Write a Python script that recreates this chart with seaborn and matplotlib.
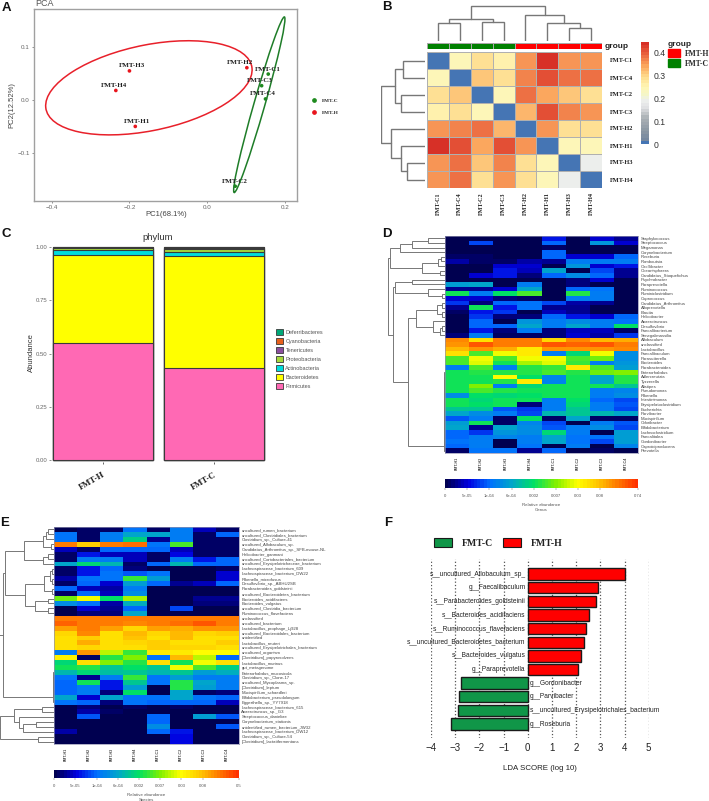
import matplotlib
matplotlib.use("Agg")
import matplotlib.pyplot as plt
import seaborn as sns
import numpy as np
import pandas as pd
from matplotlib.colors import LinearSegmentedColormap, ListedColormap
from matplotlib.lines import Line2D
from matplotlib.patches import Ellipse, Patch

W, H = 709, 801

# --- panel A: PCA
pca_names = ["FMT-H1", "FMT-H2", "FMT-H3", "FMT-H4", "FMT-C1", "FMT-C2", "FMT-C3", "FMT-C4"]
pca_pc1 = [-0.185, 0.102, -0.200, -0.235, 0.157, 0.072, 0.140, 0.150]
pca_pc2 = [-0.050, 0.061, 0.055, 0.018, 0.049, -0.163, 0.027, 0.002]
pca_group = ["FMT-H"] * 4 + ["FMT-C"] * 4
pca_label_dx = [1, -5, 2, -1, 0, 0, -1, -2]
# centre x, centre y, half width, half height, correlation
ellipse_h = (-0.150, 0.023, 0.2655, 0.089, 0.38)
ellipse_c = (0.134, -0.009, 0.066, 0.166, 0.975)

# --- panel B: distance heatmap
dist_labels = ["FMT-C1", "FMT-C4", "FMT-C2", "FMT-C3", "FMT-H2", "FMT-H1", "FMT-H3", "FMT-H4"]
dist_values = [
    [0.00, 0.25, 0.28, 0.26, 0.36, 0.44, 0.36, 0.35],
    [0.25, 0.00, 0.31, 0.28, 0.37, 0.41, 0.39, 0.38],
    [0.28, 0.31, 0.00, 0.25, 0.38, 0.34, 0.32, 0.29],
    [0.26, 0.28, 0.25, 0.00, 0.33, 0.41, 0.37, 0.36],
    [0.36, 0.37, 0.38, 0.33, 0.00, 0.35, 0.29, 0.28],
    [0.44, 0.41, 0.34, 0.41, 0.35, 0.00, 0.24, 0.25],
    [0.36, 0.39, 0.32, 0.37, 0.29, 0.24, 0.00, 0.19],
    [0.35, 0.38, 0.29, 0.36, 0.28, 0.25, 0.19, 0.00],
]
dist_groups = [1, 1, 1, 1, 0, 0, 0, 0]
dist_cbar_ticks = [0, 0.1, 0.2, 0.3, 0.4]
# dendrograms: (child, child, height)
tree_b_top = (((0, 1, 18), (2, 3, 19), 22), (4, (5, (6, 7, 13), 18), 26), 35)
tree_b_left = (((0, 1, 22), (2, 3, 25), 31), (4, (5, (6, 7, 18), 25), 35), 45)

# --- panel C: phylum composition
phylum_groups = ["FMT-H", "FMT-C"]
phylum_names = ["Firmicutes", "Bacteroidetes", "Actinobacteria", "Proteobacteria",
                "Tenericutes", "Cyanobacteria", "Deferribacteres"]
phylum_h = [0.549, 0.415, 0.020, 0.010, 0.003, 0.002, 0.001]
phylum_c = [0.433, 0.526, 0.019, 0.013, 0.004, 0.003, 0.002]
phylum_colors = ["#FF69B4", "#FFFF00", "#00DCDC", "#A6D83A", "#8B4E9E", "#E8601C", "#00A878"]

# --- panel D: genus heatmap (values are colour bar positions)
abund_cols = ["FMT-H1", "FMT-H2", "FMT-H3", "FMT-H4", "FMT-C1", "FMT-C2", "FMT-C3", "FMT-C4"]
genus_names = ["Staphylococcus", "Streptococcus", "Megamonas", "Corynebacterium", "Roseburia",
               "Romboutsia", "Oscillibacter", "Oceanisphaera", "Candidatus_Stoquefichus",
               "Psychrobacter", "Paraprevotella", "Ruminococcus", "Ruminiclostridium", "Coprococcus",
               "Candidatus_Arthromitus", "Alloprevotella", "Blautia", "Helicobacter", "Anaerotruncus",
               "Desulfovibrio", "Faecalibacterium", "Senegalimassilia", "Allobaculum", "unclassified",
               "Lactobacillus", "Faecalibaculum", "Parasutterella", "Bacteroides", "Parabacteroides",
               "Enterorhabdus", "Adlercreutzia", "Tyzzerella", "Alistipes", "Pseudomonas", "Rikenella",
               "Intestinimonas", "Erysipelatoclostridium", "Escherichia", "Parvibacter", "Mucispirillum",
               "Odoribacter", "Bifidobacterium", "Lachnoclostridium", "Faecalitalea", "Gordonibacter",
               "Caproiciproducens", "Prevotella"]
genus_values = [
    [0.1, 0.1, 0.1, 0.1, 1.2, 0.1, 1.0, 0.5],
    [0.1, 1.6, 0.1, 0.1, 2.0, 0.1, 2.7, 1.0],
    [0.1, 0.1, 0.1, 0.1, 0.2, 0.1, 0.1, 0.1],
    [0.1, 0.1, 0.1, 0.1, 2.0, 0.1, 0.1, 0.1],
    [0.2, 0.2, 0.1, 0.1, 2.0, 1.0, 1.0, 2.0],
    [0.6, 0.2, 0.2, 0.6, 0.5, 2.2, 2.3, 2.2],
    [0.1, 0.1, 1.0, 0.9, 0.1, 2.7, 1.0, 1.2],
    [0.1, 0.1, 1.2, 0.8, 3.0, 0.1, 1.7, 0.5],
    [0.1, 1.0, 1.3, 0.3, 2.0, 2.5, 2.0, 0.5],
    [0.1, 0.1, 0.1, 0.1, 0.1, 0.3, 1.0, 0.1],
    [2.8, 3.0, 0.1, 2.2, 0.1, 0.3, 0.1, 0.1],
    [0.5, 0.5, 1.0, 3.0, 0.1, 2.0, 2.1, 0.1],
    [4.2, 2.3, 4.0, 4.6, 0.1, 4.3, 2.3, 0.1],
    [1.0, 1.0, 0.3, 0.2, 0.1, 2.3, 2.2, 0.1],
    [1.5, 0.3, 2.0, 2.1, 1.6, 0.7, 0.5, 0.1],
    [0.5, 4.2, 1.2, 2.1, 0.5, 0.5, 0.1, 0.1],
    [0.2, 1.3, 1.5, 0.1, 0.8, 0.5, 0.1, 0.1],
    [0.1, 1.5, 0.3, 0.3, 2.0, 1.2, 1.0, 2.0],
    [0.1, 2.0, 0.1, 2.7, 2.2, 2.5, 2.2, 2.1],
    [0.1, 2.0, 2.0, 2.9, 2.2, 2.9, 2.3, 4.0],
    [0.1, 1.2, 0.3, 2.2, 0.3, 0.8, 0.8, 0.2],
    [0.3, 2.2, 0.2, 0.2, 0.3, 1.0, 0.7, 1.5],
    [7.6, 6.5, 7.7, 7.7, 6.6, 7.6, 7.0, 7.2],
    [7.5, 8.2, 7.7, 7.8, 8.2, 8.0, 8.2, 7.8],
    [7.0, 7.5, 7.2, 6.3, 7.5, 7.4, 7.5, 7.6],
    [6.5, 4.5, 5.8, 6.3, 2.2, 3.8, 5.8, 2.5],
    [4.5, 5.8, 4.5, 5.9, 5.8, 4.5, 4.8, 2.6],
    [4.5, 5.7, 4.2, 5.3, 5.7, 4.4, 2.2, 2.7],
    [2.3, 4.6, 2.3, 4.3, 4.4, 6.3, 4.6, 2.8],
    [4.2, 4.3, 4.3, 4.3, 4.5, 4.3, 4.8, 5.0],
    [4.2, 4.2, 6.0, 4.0, 2.4, 4.2, 3.0, 4.3],
    [4.2, 4.2, 4.3, 6.3, 2.4, 4.2, 3.0, 4.3],
    [4.2, 5.0, 2.3, 3.8, 4.2, 4.2, 4.2, 3.5],
    [4.2, 4.6, 4.3, 4.2, 4.2, 4.2, 2.3, 2.4],
    [2.6, 4.0, 3.8, 4.0, 4.2, 4.2, 2.3, 2.5],
    [4.2, 3.8, 4.2, 4.2, 2.2, 4.0, 2.0, 1.7],
    [4.2, 4.0, 4.2, 0.3, 2.2, 3.8, 2.2, 1.8],
    [3.5, 3.5, 1.8, 1.5, 2.2, 3.5, 2.2, 1.7],
    [3.0, 2.5, 2.3, 1.7, 3.3, 3.5, 3.2, 3.0],
    [1.8, 2.2, 0.2, 4.0, 0.2, 3.0, 0.2, 0.2],
    [2.8, 4.2, 0.2, 2.4, 1.7, 0.1, 2.2, 1.8],
    [3.0, 0.5, 3.0, 2.6, 1.8, 2.2, 2.5, 1.7],
    [2.0, 1.5, 2.7, 2.5, 3.8, 2.2, 0.1, 2.8],
    [2.0, 2.2, 2.4, 2.2, 3.0, 2.1, 2.1, 2.8],
    [2.1, 2.2, 0.1, 2.2, 3.0, 2.1, 1.7, 2.8],
    [2.0, 2.2, 0.1, 2.1, 0.1, 2.2, 0.1, 2.4],
    [0.2, 2.1, 2.1, 0.5, 2.0, 0.1, 0.2, 0.1],
]

# --- panel E: species heatmap
species_names = ["uncultured_rumen_bacterium", "uncultured_Clostridiales_bacterium",
                 "Clostridium_sp._Culture-41", "uncultured_Allobaculum_sp.",
                 "Candidatus_Arthromitus_sp._SFB-mouse-NL", "Helicobacter_ganmani",
                 "uncultured_Coriobacteriales_bacterium", "uncultured_Erysipelotrichaceae_bacterium",
                 "Lachnospiraceae_bacterium_609", "Lachnospiraceae_bacterium_DW22", "Rikenella_microfusus",
                 "Desulfovibrio_sp._ABHU2SB", "Parabacteroides_goldsteinii", "uncultured_Bacteroidetes_bacterium",
                 "Bacteroides_acidifaciens", "Bacteroides_vulgatus", "uncultured_Clostridia_bacterium",
                 "Ruminococcus_flavefaciens", "unclassified", "uncultured_bacterium",
                 "Lactobacillus_prophage_Lj928", "uncultured_Bacteroidales_bacterium", "unidentified",
                 "Lactobacillus_reuteri", "uncultured_Erysipelotrichales_bacterium", "uncultured_organism",
                 "[Clostridium]_papyrosolvens", "Lactobacillus_murinus", "gut_metagenome",
                 "Enterorhabdus_mucosicola", "Clostridium_sp._Clone-17", "uncultured_Mycoplasma_sp.",
                 "[Clostridium]_leptum", "Mucispirillum_schaedleri", "Bifidobacterium_pseudolongum",
                 "Eggerthella_sp._YY7918", "Lachnospiraceae_bacterium_615", "Anaerotruncus_sp._G3",
                 "Streptococcus_danieliae", "Corynebacterium_stationis", "unidentified_rumen_bacterium_JW32",
                 "Lachnospiraceae_bacterium_DW12", "Clostridium_sp._Culture-54", "[Clostridium]_lactatifermentans"]
species_values = [
    [0.1, 0.2, 0.2, 2.1, 0.2, 2.2, 0.8, 0.2],
    [2.1, 0.2, 2.3, 3.0, 3.0, 2.2, 0.2, 2.0],
    [2.1, 0.2, 2.2, 3.7, 0.5, 2.2, 0.2, 0.2],
    [7.8, 6.7, 7.8, 7.9, 2.1, 4.5, 0.2, 0.2],
    [0.8, 0.2, 1.9, 1.9, 2.0, 0.8, 0.2, 0.2],
    [0.2, 1.2, 0.8, 0.8, 0.2, 1.1, 0.2, 0.2],
    [0.2, 2.2, 2.2, 0.8, 0.2, 2.2, 1.2, 2.0],
    [3.0, 3.8, 3.2, 0.2, 2.0, 3.2, 2.0, 2.0],
    [0.2, 1.2, 2.0, 0.3, 0.1, 0.1, 0.1, 0.2],
    [0.2, 1.2, 2.1, 1.8, 2.1, 0.1, 0.1, 0.9],
    [0.7, 2.1, 2.1, 4.4, 2.8, 0.1, 0.1, 0.9],
    [0.2, 2.0, 1.0, 2.8, 2.0, 0.5, 0.8, 1.9],
    [1.9, 0.8, 0.7, 2.2, 0.1, 0.1, 0.1, 0.1],
    [0.2, 2.0, 0.8, 2.5, 0.1, 0.1, 0.1, 0.1],
    [4.8, 5.8, 4.0, 5.3, 0.1, 0.1, 0.5, 0.5],
    [2.5, 2.1, 0.6, 3.1, 0.1, 0.1, 0.3, 0.3],
    [0.1, 0.9, 0.5, 2.0, 0.1, 1.6, 0.1, 0.1],
    [0.1, 0.3, 0.3, 3.0, 0.1, 0.1, 0.1, 0.1],
    [7.8, 7.8, 7.8, 7.8, 7.8, 7.8, 7.8, 7.8],
    [8.0, 7.7, 7.7, 7.6, 7.8, 7.9, 8.2, 7.8],
    [7.3, 7.7, 7.3, 6.6, 7.3, 7.2, 7.4, 7.4],
    [6.6, 7.6, 6.5, 7.0, 6.6, 7.0, 6.6, 6.7],
    [6.5, 6.8, 6.5, 6.9, 6.4, 7.0, 6.5, 6.5],
    [6.4, 7.2, 6.5, 6.6, 6.8, 6.5, 6.4, 6.7],
    [6.5, 6.6, 6.5, 6.4, 6.8, 6.6, 6.6, 6.5],
    [2.2, 7.4, 5.5, 4.4, 6.3, 6.3, 6.0, 6.0],
    [6.2, 0.2, 4.3, 5.0, 2.1, 7.1, 5.5, 2.0],
    [3.8, 6.5, 5.0, 4.3, 6.5, 4.2, 5.8, 6.4],
    [4.2, 4.3, 3.5, 4.0, 3.6, 5.8, 4.5, 3.7],
    [3.2, 3.8, 3.4, 3.6, 3.3, 3.5, 2.8, 3.1],
    [2.1, 0.5, 2.3, 4.4, 2.1, 2.8, 2.3, 2.2],
    [2.0, 4.2, 1.3, 3.5, 2.1, 4.3, 2.9, 2.2],
    [2.0, 2.2, 1.3, 2.8, 0.1, 4.3, 2.8, 2.2],
    [2.0, 2.2, 0.3, 4.0, 0.1, 3.0, 0.2, 0.3],
    [3.0, 0.9, 3.0, 2.1, 2.1, 3.0, 2.1, 1.9],
    [2.1, 1.9, 0.3, 2.1, 2.0, 2.0, 2.0, 0.8],
    [0.1, 0.4, 0.1, 0.2, 0.1, 0.2, 0.1, 0.1],
    [0.1, 0.7, 0.2, 0.1, 0.1, 0.1, 0.1, 0.1],
    [0.1, 1.8, 0.1, 0.1, 2.0, 0.1, 2.8, 1.8],
    [0.1, 0.1, 0.1, 0.1, 2.0, 0.1, 0.1, 0.1],
    [0.1, 0.1, 0.1, 0.1, 2.5, 0.1, 0.1, 1.8],
    [0.6, 0.1, 0.1, 0.1, 2.0, 1.2, 0.1, 0.1],
    [0.1, 0.1, 0.1, 0.1, 0.1, 1.1, 0.1, 0.1],
    [0.1, 0.1, 0.1, 0.1, 0.1, 1.1, 0.1, 0.1],
]
abund_ticks = [0, 1, 2, 3, 4, 5, 6, 7, 8.7]
genus_tick_labels = ["0", "5e-05", "1e-04", "6e-04", "0.002", "0.007", "0.03", "0.08", "0.74"]
species_tick_labels = ["0", "5e-05", "1e-04", "6e-04", "0.002", "0.007", "0.03", "0.08", "0.5"]

hot_steps_d = [0.3, 0.3, 0.4, 0.4, 0.4, 0.5, 0.5, 0.5, 0.6, 0.6, 0.6, 0.7,
               0.7, 0.7, 0.8, 0.8, 0.8, 0.9, 0.9, 0.9, 1.0, 1.0, 1.1, 1.2]
hot_steps_e = [0.3, 0.3, 0.4, 0.4, 0.5, 0.5, 0.6, 0.6, 0.7, 0.7, 0.8, 0.8, 0.9, 0.9, 1.0, 1.1, 1.2]


def ladder(leaves, steps):
    node = leaves[0]
    for leaf, h in zip(leaves[1:], steps):
        node = (node, leaf, h)
    return node


tree_d = ((((((0, 1, 17), 2, 33), 3, 45), (((4, 5, 4), 6, 7), (7, 8, 5), 23), 55)),
          (((9, 10, 33), (11, (12, 13, 3), 17), 50),
           ((((14, 15, 3), (16, 17, 3), 8), (18, ((19, 20, 3), 21, 5), 12), 29),
            ladder(list(range(22, 47)), hot_steps_d), 37), 52), 57.5)
tree_e = (((((((0, 1, 6), 2, 8), (3, 4, 3), 11), ((5, 6, 6), 7, 11), 30),
            ((((8, 9, 2), (10, 11, 2.5), 4), (12, 13, 2), 10), ((14, 15, 6), (16, 17, 6), 19), 29), 49),
           ladder(list(range(18, 36)), hot_steps_e), 51),
          (((36, 37, 12), (38, ((39, 40, 18), 41, 31), 35), 40), (42, 43, 16), 54), 60)

# --- panel F: LDA scores
lda_names = ["s__uncultured_Allobaculum_sp_", "g__Faecalibaculum", "s__Parabacteroides_goldsteinii",
             "s__Bacteroides_acidifaciens", "s__Ruminococcus_flavefaciens", "s__uncultured_Bacteroidetes_bacterium",
             "s__Bacteroides_vulgatus", "g__Paraprevotella", "g__Gordonibacter", "g__Parvibacter",
             "s__uncultured_Erysipelotrichales_bacterium", "g__Roseburia"]
lda_scores = [4.02, 2.92, 2.82, 2.52, 2.40, 2.33, 2.20, 2.07, -2.78, -2.85, -2.88, -3.17]
lda_group = ["FMT-H"] * 8 + ["FMT-C"] * 4

sns.set_style("white")
plt.rcParams["font.family"] = ["Liberation Sans", "DejaVu Sans"]
SERIF = "Liberation Serif"
GRAY = "#666666"

fig = plt.figure(figsize=(W / 100, H / 100), dpi=100)


def px_axes(x0, y0, x1, y1):
    return fig.add_axes([x0 / W, 1 - y1 / H, (x1 - x0) / W, (y1 - y0) / H])


def px_text(x, y, s, **kw):
    kw.setdefault("ha", "center")
    kw.setdefault("va", "center")
    fig.text(x / W, 1 - y / H, s, **kw)


def px_legend(x, y, handles, **kw):
    return fig.legend(handles=handles, loc="upper left", bbox_to_anchor=(x / W, 1 - y / H),
                      frameon=False, borderpad=0, borderaxespad=0, **kw)


def draw_tree(ax, node, horizontal, color="#777777", lw=0.9):
    if not isinstance(node, tuple):
        return node + 0.5, 0
    p1, h1 = draw_tree(ax, node[0], horizontal, color, lw)
    p2, h2 = draw_tree(ax, node[1], horizontal, color, lw)
    h = node[2]
    pos, hts = [p1, p1, p2, p2], [h1, h, h, h2]
    if horizontal:
        ax.plot(hts, pos, color=color, lw=lw, solid_joinstyle="miter")
    else:
        ax.plot(pos, hts, color=color, lw=lw, solid_joinstyle="miter")
    return (p1 + p2) / 2, h


def ellipse_patch(cx, cy, ax_, ay, rho, color):
    cov = np.array([[ax_ ** 2, rho * ax_ * ay], [rho * ax_ * ay, ay ** 2]])
    vals, vecs = np.linalg.eigh(cov)
    angle = np.degrees(np.arctan2(vecs[1, 1], vecs[0, 1]))
    return Ellipse((cx, cy), 2 * np.sqrt(vals[1]), 2 * np.sqrt(vals[0]), angle=angle,
                   fill=False, edgecolor=color, lw=1.1)


# A
ax = px_axes(34, 9, 297, 201)
pca = pd.DataFrame({"pc1": pca_pc1, "pc2": pca_pc2, "group": pca_group})
sns.scatterplot(data=pca, x="pc1", y="pc2", hue="group", palette={"FMT-H": "#E8141C", "FMT-C": "#1E8A1E"},
                s=7, linewidth=0, legend=False, ax=ax)
ax.add_patch(ellipse_patch(*ellipse_h, "#E8202A"))
ax.add_patch(ellipse_patch(*ellipse_c, "#1E7D28"))
for name, x, y, dx in zip(pca_names, pca_pc1, pca_pc2, pca_label_dx):
    ax.annotate(name, (x, y), xytext=(dx, 3.6), textcoords="offset points", ha="center", va="center",
                fontsize=5, fontweight="bold", family=SERIF, color="#222222")
ax.set_xlim(-0.4455, 0.231)
ax.set_ylim(-0.191, 0.172)
ax.set_xticks([-0.4, -0.2, 0.0, 0.2])
ax.set_yticks([-0.1, 0.0, 0.1])
ax.set_xticklabels(["\u22120.4", "\u22120.2", "0.0", "0.2"])
ax.set_yticklabels(["\u22120.1", "0.0", "0.1"])
ax.tick_params(labelsize=4.5, colors=GRAY, length=1.5, width=0.5, pad=1.5, bottom=True, left=True)
for s in ax.spines.values():
    s.set_color("#A0A0A0")
    s.set_linewidth(1.0)
ax.set_xlabel("")
ax.set_ylabel("")
px_text(166, 214, "PC1(68.1%)", fontsize=5.5, color="#444444")
px_text(12, 105, "PC2(12.52%)", fontsize=5.5, color="#444444", rotation=90)
px_text(35, 3, "PCA", fontsize=6.5, color="#555555", ha="left")
px_legend(311, 98, [Line2D([], [], ls="", marker="o", ms=2.4, color="#1E8A1E", label="FMT-C"),
                    Line2D([], [], ls="", marker="o", ms=2.4, color="#E8141C", label="FMT-H")],
          prop={"family": SERIF, "weight": "bold", "size": 3.8}, labelspacing=1.35,
          handlelength=1, handletextpad=1)

# B
dist_stops = [(0.0, "#4575B4"), (0.03, "#75889F"), (0.11, "#8A96A3"), (0.25, "#ABB1B5"), (0.35, "#DFE0E2"),
              (0.43, "#EEF0EE"), (0.47, "#F2F6CC"), (0.56, "#FFF6B5"), (0.67, "#FED98A"), (0.78, "#FBA45C"),
              (0.9, "#E9603C"), (1.0, "#D73027")]
dist_cmap = LinearSegmentedColormap.from_list("dist", dist_stops, N=32)
ax = px_axes(427, 52, 602, 188)
cax = px_axes(641, 42, 649, 144)
sns.heatmap(pd.DataFrame(dist_values, index=dist_labels, columns=dist_labels), ax=ax, cmap=dist_cmap, vmin=0,
            vmax=0.447, linewidths=0.7, linecolor="#B0B0B0", cbar_ax=cax, cbar_kws={"ticks": dist_cbar_ticks})
ax.set_xticks(np.arange(8) + 0.5)
ax.set_xticklabels(dist_labels, rotation=90, fontsize=4.4, fontweight="bold", family=SERIF, color="#222222")
ax.yaxis.tick_right()
ax.set_yticklabels(dist_labels, rotation=0, fontsize=4.6, fontweight="bold", family=SERIF, color="#222222")
ax.tick_params(axis="y", length=0, pad=6)
ax.tick_params(axis="x", length=0, pad=3)
cax.set_yticklabels(["0", "0.1", "0.2", "0.3", "0.4"])
cax.tick_params(labelsize=6.2, length=0, pad=3, colors="#333333")

ax = px_axes(427, 43, 602, 49)
sns.heatmap([dist_groups], ax=ax, cmap=ListedColormap(["#FF0000", "#008000"]), vmin=0, vmax=1, cbar=False,
            linewidths=0.5, linecolor="#A8A8A8", xticklabels=False, yticklabels=False)
px_text(605, 46.5, "group", fontsize=6, fontweight="bold", ha="left", color="#222222")

ax = px_axes(427, 3, 602, 41)
draw_tree(ax, tree_b_top, False, lw=1.0)
ax.set_xlim(0, 8)
ax.set_ylim(0, 38)
ax.axis("off")
ax = px_axes(381, 52, 425, 188)
draw_tree(ax, tree_b_left, True, lw=1.0)
ax.set_xlim(45, 0)
ax.set_ylim(8, 0)
ax.axis("off")
px_legend(668, 41, [Patch(color="#FF0000", label="FMT-H"), Patch(color="#008000", label="FMT-C")],
          title="group", title_fontproperties={"family": "Liberation Sans", "weight": "bold", "size": 6},
          prop={"family": SERIF, "weight": "bold", "size": 5.5}, alignment="left", labelspacing=0.15,
          handlelength=1.55, handleheight=1.25, handletextpad=0.6)

# C
ax = px_axes(51, 245, 268, 462)
comp = pd.DataFrame({"group": phylum_groups})
cum_h, cum_c = np.cumsum(phylum_h), np.cumsum(phylum_c)
for i in range(len(phylum_names) - 1, -1, -1):
    comp["top"] = [cum_h[i], cum_c[i]]
    sns.barplot(data=comp, x="group", y="top", color=phylum_colors[i], saturation=1, width=0.9,
                edgecolor="#3A3A3A", linewidth=0.8, ax=ax)
ax.set_xlim(-0.4645, 1.485)
ax.set_ylim(-0.0094, 1.0094)
ax.set_yticks([0, 0.25, 0.5, 0.75, 1.0])
ax.set_yticklabels(["0.00", "0.25", "0.50", "0.75", "1.00"])
ax.set_xticks([0, 1])
ax.set_xticklabels(phylum_groups, rotation=30, ha="right", rotation_mode="anchor", fontsize=6.2,
                   fontweight="bold", family=SERIF, color="#222222")
ax.tick_params(axis="y", labelsize=4.3, colors=GRAY, length=1.5, width=0.5, pad=1, left=True)
ax.tick_params(axis="x", length=1.5, width=0.5, pad=5, bottom=True)
ax.set_xlabel("")
ax.set_ylabel("")
sns.despine(ax=ax, left=True, bottom=True)
px_text(158, 238, "phylum", fontsize=6.8, color="#333333")
px_text(31, 353, "Abundance", fontsize=5.5, color="#333333", rotation=90)
px_legend(276, 329.5, [Patch(facecolor=c, edgecolor="#3A3A3A", lw=0.6, label=n)
                       for n, c in zip(phylum_names[::-1], phylum_colors[::-1])],
          prop={"size": 4.0}, labelcolor="#555555", labelspacing=0.58, handlelength=1.25, handleheight=1.2,
          handletextpad=0.45)

# D, E
abund_stops = [(0.0, "#000050"), (1 / 8.7, "#0000E0"), (2 / 8.7, "#0070FF"), (3 / 8.7, "#00A8C8"),
               (4 / 8.7, "#00E064"), (5 / 8.7, "#80F000"), (6 / 8.7, "#FFFF00"), (7 / 8.7, "#FFC000"),
               (1.0, "#FF3000")]
abund_cmap = LinearSegmentedColormap.from_list("abund", abund_stops, N=60)


def abundance_panel(values, rows, box, cbar_box, tick_labels, tree, tree_box, tree_max, caption):
    x0, y0, x1, y1 = box
    ax = px_axes(x0, y0, x1, y1)
    cax = px_axes(*cbar_box)
    sns.heatmap(pd.DataFrame(values, index=rows, columns=abund_cols), ax=ax, cmap=abund_cmap, vmin=0, vmax=8.7,
                cbar_ax=cax, cbar_kws={"orientation": "horizontal", "ticks": abund_ticks},
                xticklabels=True, yticklabels=True)
    ax.yaxis.tick_right()
    ax.set_yticklabels(rows, rotation=0, fontsize=3.1, color="#444444")
    ax.set_xticklabels(abund_cols, rotation=90, fontsize=2.6, fontweight="bold", color="#444444")
    ax.tick_params(axis="y", length=0, pad=2)
    ax.tick_params(axis="x", length=0, pad=3)
    for s in ax.spines.values():
        s.set_visible(True)
        s.set_color("#9090B0")
        s.set_linewidth(0.5)
    cax.set_xticklabels(tick_labels)
    cax.tick_params(labelsize=3.1, length=1.2, width=0.3, pad=3, colors="#555555")
    tree_ax = px_axes(*tree_box)
    draw_tree(tree_ax, tree, True, lw=0.7)
    tree_ax.set_xlim(tree_max, 0)
    tree_ax.set_ylim(len(rows), 0)
    tree_ax.axis("off")
    px_text((cbar_box[0] + cbar_box[2]) / 2, cbar_box[3] + 17, "Relative abundance", fontsize=3.2, color="#555555")
    px_text((cbar_box[0] + cbar_box[2]) / 2, cbar_box[3] + 22, caption, fontsize=3.2, color="#555555")


abundance_panel(genus_values, genus_names, (445, 236, 638, 453), (445, 479, 638, 488), genus_tick_labels,
                tree_d, (386, 236, 445, 453), 59, "Genus")
abundance_panel(species_values, species_names, (54.3, 527, 238.7, 744), (54.3, 770, 238.7, 778), species_tick_labels,
                tree_e, (0, 527, 54.3, 744), 54.3, "Species")

# F
ax = px_axes(431, 559, 648.7, 737.7)
lda = pd.DataFrame({"name": lda_names, "score": lda_scores, "group": lda_group})
sns.barplot(data=lda, y="name", x="score", hue="group", dodge=False, legend=False, width=0.83, saturation=1,
            palette={"FMT-H": "#FF0000", "FMT-C": "#109648"}, edgecolor="#1A1A1A", linewidth=1.0, zorder=3, ax=ax)
ax.set_xlim(-4, 5)
ax.set_ylim(12.0, -1.1)
ax.set_xticks(range(-4, 6))
ax.set_xticklabels(["\u22124", "\u22123", "\u22122", "\u22121", "0", "1", "2", "3", "4", "5"])
ax.set_yticks([])
ax.tick_params(axis="x", labelsize=7, length=0, pad=4, colors="#222222")
ax.xaxis.grid(True, ls=":", color="#555555", lw=0.9, zorder=0)
ax.set_xlabel("")
ax.set_ylabel("")
sns.despine(ax=ax, left=True, bottom=True)
for i, (name, score) in enumerate(zip(lda_names, lda_scores)):
    if score > 0:
        ax.text(-0.09, i, name, ha="right", va="center", fontsize=4.8, color="#222222")
    else:
        ax.text(0.09, i, name, ha="left", va="center", fontsize=4.8, color="#222222")
px_text(540, 768, "LDA SCORE (log 10)", fontsize=5.7, color="#222222")
px_legend(434, 538, [Patch(facecolor="#109648", edgecolor="#1A1A1A", lw=0.8, label="FMT-C"),
                     Patch(facecolor="#FF0000", edgecolor="#1A1A1A", lw=0.8, label="FMT-H")],
          ncol=2, prop={"family": SERIF, "weight": "bold", "size": 7}, labelcolor="#222222",
          handlelength=1.85, handleheight=1.0, handletextpad=1.0, columnspacing=1.0)

# panel letters
for letter, x, y in [("A", 6, 8), ("B", 387, 7), ("C", 6, 234), ("D", 387, 234), ("E", 5, 523), ("F", 388, 523)]:
    px_text(x, y, letter, fontsize=9.5, fontweight="bold", color="#111111")

fig.savefig("out.png", dpi=100)
